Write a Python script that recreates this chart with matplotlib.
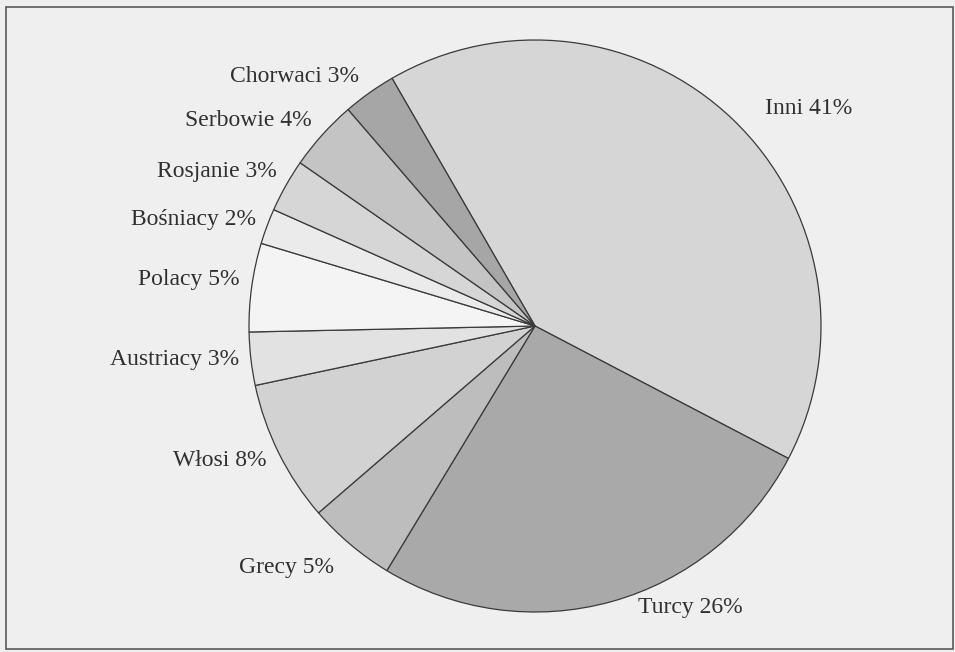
import matplotlib.pyplot as plt
from matplotlib.patches import Rectangle

# udział narodowości (w %), kolejność zgodnie z ruchem wskazówek zegara
narody = ['Inni', 'Turcy', 'Grecy', 'Włosi', 'Austriacy', 'Polacy',
          'Bośniacy', 'Rosjanie', 'Serbowie', 'Chorwaci']
procenty = [41, 26, 5, 8, 3, 5, 2, 3, 4, 3]
kolory = ['#d6d6d6', '#a9a9a9', '#bdbdbd', '#d2d2d2', '#e2e2e2', '#f4f4f4',
          '#ebebeb', '#d6d6d6', '#c4c4c4', '#a6a6a6']

# pozycje podpisów w pikselach (x, y od góry, wyrównanie)
podpisy_xy = [(765, 109, 'left'), (638, 608, 'left'), (334, 567, 'right'),
              (266, 461, 'right'), (239, 360, 'right'), (239, 279, 'right'),
              (256, 219, 'right'), (277, 171, 'right'), (312, 120, 'right'),
              (359, 77, 'right')]

plt.rcParams['font.family'] = ['Liberation Serif', 'DejaVu Serif']

W, H = 955, 652
fig = plt.figure(figsize=(W / 100, H / 100), dpi=100, facecolor='#efefef')
ax = fig.add_axes([0, 0, 1, 1])

ax.pie(procenty, colors=kolory, startangle=120, counterclock=False,
       center=(535, H - 326), radius=286,
       wedgeprops=dict(edgecolor='#3a3a3a', linewidth=0.9))

for nazwa, p, (x, y, ha) in zip(narody, procenty, podpisy_xy):
    ax.text(x, H - y, f'{nazwa} {p}%', ha=ha, va='center',
            fontsize=17, color='#303030')

ax.set_xlim(0, W)
ax.set_ylim(0, H)
ax.set_aspect('equal')
ax.axis('off')

# ramka wokół wykresu
fig.patches.append(Rectangle((6, 3), 947, 642, transform=None, fill=False,
                             edgecolor='#5a5a5a', linewidth=1.2))

fig.savefig('out.png', dpi=100, facecolor=fig.get_facecolor())
